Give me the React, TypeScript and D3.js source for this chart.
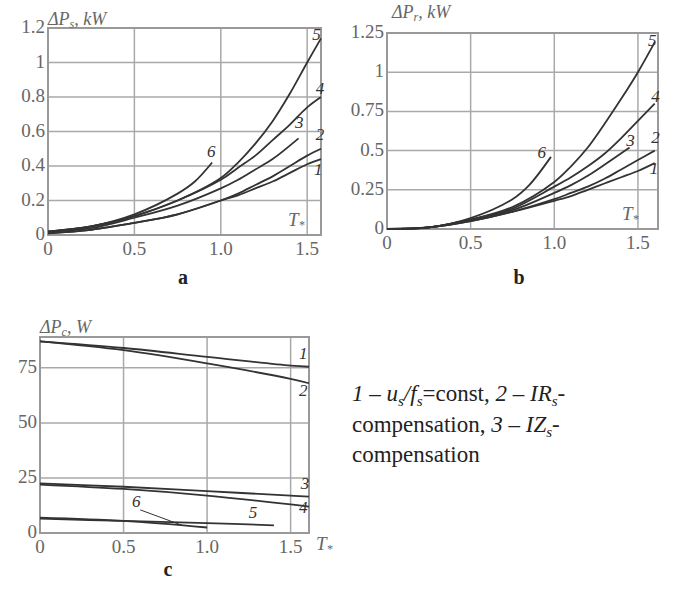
import React from "react";
import * as d3 from "d3";

// T* sample points and curve values
const xsA = [0, 0.25, 0.5, 0.75, 1.0, 1.1, 1.2, 1.3, 1.4, 1.5, 1.58];
const a1 = [0.01, 0.03, 0.07, 0.12, 0.2, 0.23, 0.27, 0.31, 0.36, 0.41, 0.44];
const a2 = [0.01, 0.03, 0.07, 0.12, 0.2, 0.24, 0.29, 0.34, 0.4, 0.46, 0.5];
const a4 = [0.02, 0.05, 0.11, 0.2, 0.32, 0.39, 0.46, 0.55, 0.64, 0.74, 0.8];
const a5 = [0.02, 0.05, 0.11, 0.2, 0.33, 0.42, 0.53, 0.66, 0.82, 1.0, 1.14];
const xsA3 = [0, 0.25, 0.5, 0.75, 1.0, 1.1, 1.2, 1.3, 1.45];
const a3 = [0.02, 0.04, 0.1, 0.17, 0.27, 0.32, 0.38, 0.44, 0.56];
const xsA6 = [0, 0.25, 0.5, 0.75, 0.85, 0.95];
const a6 = [0.02, 0.05, 0.12, 0.24, 0.31, 0.42];

const xsB = [0, 0.25, 0.5, 0.75, 1.0, 1.1, 1.2, 1.3, 1.4, 1.5, 1.6];
const b1 = [0, 0.01, 0.05, 0.11, 0.18, 0.21, 0.25, 0.29, 0.33, 0.37, 0.42];
const b2 = [0, 0.01, 0.05, 0.11, 0.19, 0.23, 0.27, 0.32, 0.38, 0.44, 0.5];
const b4 = [0, 0.01, 0.06, 0.13, 0.27, 0.33, 0.4, 0.48, 0.58, 0.69, 0.8];
const b5 = [0, 0.01, 0.06, 0.14, 0.3, 0.4, 0.52, 0.67, 0.83, 1.0, 1.19];
const xsB3 = [0, 0.25, 0.5, 0.75, 1.0, 1.1, 1.2, 1.3, 1.45];
const b3 = [0, 0.01, 0.06, 0.12, 0.23, 0.28, 0.34, 0.41, 0.52];
const xsB6 = [0, 0.25, 0.5, 0.75, 0.85, 0.98];
const b6 = [0, 0.01, 0.07, 0.19, 0.28, 0.46];

const xsC = [0, 0.5, 1.0, 1.5, 1.61];
const c1 = [87, 84, 80, 76, 75.5];
const c2 = [87, 83, 77, 70, 68];
const c3 = [22.5, 21, 19, 17, 16.5];
const c4 = [22, 20, 17, 13, 12];
const xsC5 = [0, 0.5, 1.0, 1.4];
const c5 = [6.5, 5.5, 4.5, 3.5];
const xsC6 = [0, 0.5, 1.0];
const c6 = [7, 5.5, 2.5];

const xTicks = [0, 0.5, 1.0, 1.5];
const xTickLabels = ["0", "0.5", "1.0", "1.5"];
const yTicksA = [0, 0.2, 0.4, 0.6, 0.8, 1, 1.2];
const yTickLabelsA = ["0", "0.2", "0.4", "0.6", "0.8", "1", "1.2"];
const yTicksB = [0, 0.25, 0.5, 0.75, 1, 1.25];
const yTickLabelsB = ["0", "0.25", "0.5", "0.75", "1", "1.25"];
const yTicksC = [0, 25, 50, 75];
const yTickLabelsC = ["0", "25", "50", "75"];

// curve number labels: [text, x, y] in data units
const labelsA: [string, number, number][] = [
  ["5", 1.53, 1.13], ["4", 1.55, 0.82], ["3", 1.43, 0.62],
  ["2", 1.55, 0.55], ["1", 1.54, 0.35], ["6", 0.92, 0.45],
];
const labelsB: [string, number, number][] = [
  ["5", 1.56, 1.17], ["4", 1.58, 0.81], ["3", 1.43, 0.53],
  ["2", 1.58, 0.55], ["1", 1.57, 0.35], ["6", 0.9, 0.45],
];
const labelsC: [string, number, number][] = [
  ["1", 1.55, 79], ["2", 1.55, 62], ["3", 1.56, 20],
  ["4", 1.55, 9], ["5", 1.25, 7], ["6", 0.55, 12],
];

const GRID = "#a9a9a9";
const INK = "#333";
const TXT = "#666";
const SERIF = "'Liberation Serif', 'DejaVu Serif', serif";

type Series = { xs: number[]; ys: number[] };

function Panel(props: {
  left: number; right: number; top: number; bottom: number;
  xMax: number; yMax: number;
  yTicks: number[]; yTickLabels: string[];
  series: Series[];
  labels: [string, number, number][];
  title: string; sub: string; unit: string; titleX: number; titleY: number;
  tLabelX: number; tLabelY: number;
  letter: string; letterX: number; letterY: number;
  leader?: [number, number, number, number];
}) {
  const p = props;
  const x = d3.scaleLinear().domain([0, p.xMax]).range([p.left, p.right]);
  const y = d3.scaleLinear().domain([0, p.yMax]).range([p.bottom, p.top]);
  const line = d3.line<[number, number]>()
    .x(d => x(d[0]))
    .y(d => y(d[1]))
    .curve(d3.curveCatmullRom.alpha(0.5));

  return (
    <g>
      {xTicks.map(t => (
        <line key={"gx" + t} x1={x(t)} x2={x(t)} y1={p.top} y2={p.bottom} stroke={GRID} strokeWidth={1.5} />
      ))}
      {p.yTicks.map(t => (
        <line key={"gy" + t} x1={p.left} x2={p.right} y1={y(t)} y2={y(t)} stroke={GRID} strokeWidth={1.5} />
      ))}
      <rect x={p.left} y={p.top} width={p.right - p.left} height={p.bottom - p.top}
        fill="none" stroke="#999" strokeWidth={2} />
      {p.series.map((s, i) => (
        <path key={"s" + i} d={line(s.xs.map((v, j) => [v, s.ys[j]] as [number, number])) || ""}
          fill="none" stroke={INK} strokeWidth={1.8} />
      ))}
      {p.leader && (
        <line x1={x(p.leader[0])} y1={y(p.leader[1])} x2={x(p.leader[2])} y2={y(p.leader[3])}
          stroke={INK} strokeWidth={1} />
      )}
      {p.yTicks.map((t, i) => (
        <text key={"ty" + t} x={p.left - 3} y={y(t) + 5} textAnchor="end"
          fontSize={19} fill={TXT} fontFamily={SERIF}>{p.yTickLabels[i]}</text>
      ))}
      {xTicks.map((t, i) => (
        <text key={"tx" + t} x={x(t)} y={p.bottom + 20} textAnchor="middle"
          fontSize={19} fill={TXT} fontFamily={SERIF}>{xTickLabels[i]}</text>
      ))}
      {p.labels.map(([s, lx, ly]) => (
        <text key={"l" + s} x={x(lx)} y={y(ly)} fontSize={17} fontStyle="italic"
          fill={INK} fontFamily={SERIF}>{s}</text>
      ))}
      <text x={p.titleX} y={p.titleY} fontSize={18} fontStyle="italic" fill={TXT} fontFamily={SERIF}>
        {p.title}<tspan fontSize={12} dy={3}>{p.sub}</tspan><tspan dy={-3}>{", " + p.unit}</tspan>
      </text>
      <text x={p.tLabelX} y={p.tLabelY} fontSize={19} fontStyle="italic" fill={TXT} fontFamily={SERIF}>
        T<tspan fontSize={12} dy={3}>*</tspan>
      </text>
      <text x={p.letterX} y={p.letterY} fontSize={20} fontWeight="bold" textAnchor="middle"
        fill="#222" fontFamily={SERIF}>{p.letter}</text>
    </g>
  );
}

export default function App() {
  return (
    <svg width={674} height={593} style={{ position: "absolute", left: 0, top: 0, background: "#fff" }}>
      <Panel left={48} right={321} top={28} bottom={235} xMax={1.58} yMax={1.2}
        yTicks={yTicksA} yTickLabels={yTickLabelsA}
        series={[
          { xs: xsA, ys: a1 }, { xs: xsA, ys: a2 }, { xs: xsA3, ys: a3 },
          { xs: xsA, ys: a4 }, { xs: xsA, ys: a5 }, { xs: xsA6, ys: a6 },
        ]}
        labels={labelsA}
        title="ΔP" sub="s" unit="kW" titleX={48} titleY={25}
        tLabelX={288} tLabelY={226}
        letter="a" letterX={183} letterY={284} />
      <Panel left={387} right={658} top={33} bottom={229} xMax={1.62} yMax={1.25}
        yTicks={yTicksB} yTickLabels={yTickLabelsB}
        series={[
          { xs: xsB, ys: b1 }, { xs: xsB, ys: b2 }, { xs: xsB3, ys: b3 },
          { xs: xsB, ys: b4 }, { xs: xsB, ys: b5 }, { xs: xsB6, ys: b6 },
        ]}
        labels={labelsB}
        title="ΔP" sub="r" unit="kW" titleX={392} titleY={18}
        tLabelX={622} tLabelY={220}
        letter="b" letterX={519} letterY={284} />
      <Panel left={40} right={309} top={337} bottom={533} xMax={1.61} yMax={89}
        yTicks={yTicksC} yTickLabels={yTickLabelsC}
        series={[
          { xs: xsC, ys: c1 }, { xs: xsC, ys: c2 }, { xs: xsC, ys: c3 },
          { xs: xsC, ys: c4 }, { xs: xsC5, ys: c5 }, { xs: xsC6, ys: c6 },
        ]}
        labels={labelsC}
        leader={[0.6, 10.5, 0.85, 3.5]}
        title="ΔP" sub="c" unit="W" titleX={40} titleY={333}
        tLabelX={316} tLabelY={550}
        letter="c" letterX={168} letterY={576} />
      <g fontFamily={SERIF} fontSize={23} fill="#222">
        <text x={352} y={401}>
          <tspan fontStyle="italic">1 – u</tspan><tspan fontStyle="italic" fontSize={15} dy={5}>s</tspan>
          <tspan fontStyle="italic" dy={-5}>/f</tspan><tspan fontStyle="italic" fontSize={15} dy={5}>s</tspan>
          <tspan dy={-5}>=const, </tspan><tspan fontStyle="italic">2 – IR</tspan>
          <tspan fontStyle="italic" fontSize={15} dy={5}>s</tspan><tspan dy={-5}>-</tspan>
        </text>
        <text x={352} y={432}>
          <tspan>compensation, </tspan><tspan fontStyle="italic">3 – IZ</tspan>
          <tspan fontStyle="italic" fontSize={15} dy={5}>s</tspan><tspan dy={-5}>-</tspan>
        </text>
        <text x={352} y={462}>compensation</text>
      </g>
    </svg>
  );
}
